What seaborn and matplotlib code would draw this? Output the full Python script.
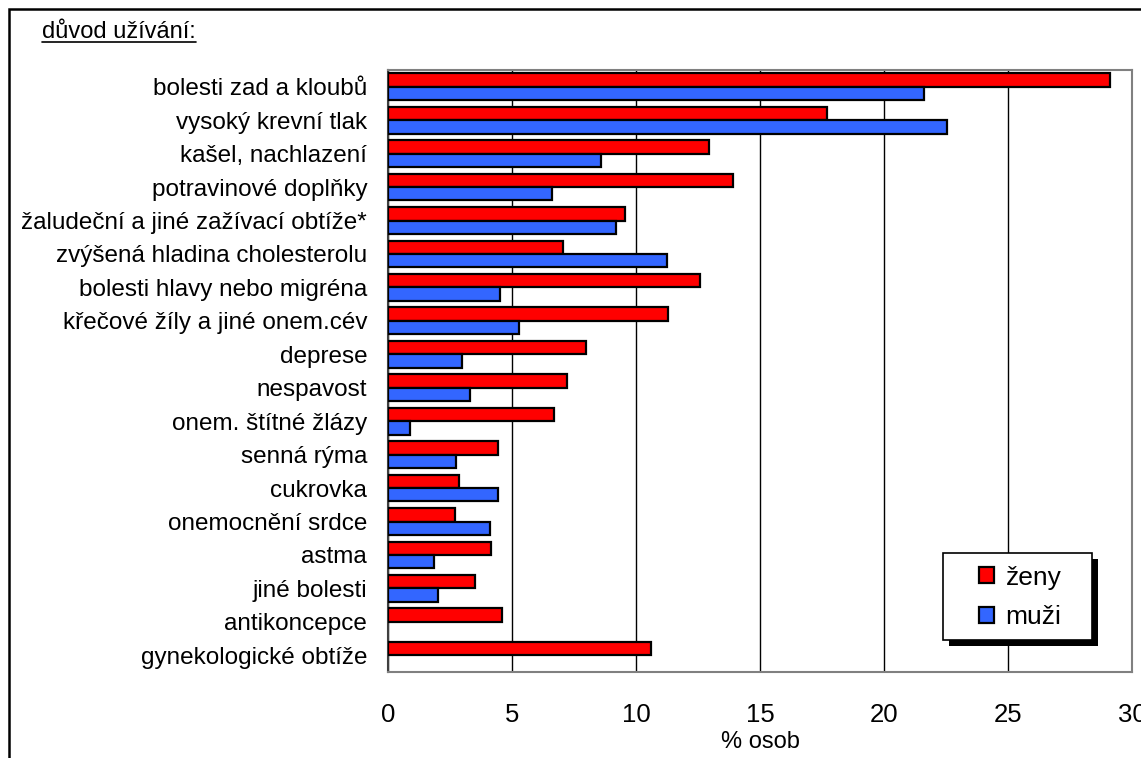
import matplotlib
matplotlib.use("Agg")
import matplotlib.pyplot as plt
from matplotlib.patches import Rectangle
from matplotlib.lines import Line2D
import numpy as np
import pandas as pd
import seaborn as sns

# Reasons for use (top to bottom)
categories = [
    "bolesti zad a kloubů",
    "vysoký krevní tlak",
    "kašel, nachlazení",
    "potravinové doplňky",
    "žaludeční a jiné zažívací obtíže*",
    "zvýšená hladina cholesterolu",
    "bolesti hlavy nebo migréna",
    "křečové žíly a jiné onem.cév",
    "deprese",
    "nespavost",
    "onem. štítné žlázy",
    "senná rýma",
    "cukrovka",
    "onemocnění srdce",
    "astma",
    "jiné bolesti",
    "antikoncepce",
    "gynekologické obtíže",
]

# Share of persons (%)
zeny = [29.1, 17.7, 12.95, 13.9, 9.55, 7.05, 12.6, 11.3, 8.0, 7.2, 6.7, 4.45,
        2.85, 2.7, 4.15, 3.5, 4.6, 10.6]
muzi = [21.6, 22.55, 8.6, 6.6, 9.2, 11.25, 4.5, 5.3, 3.0, 3.3, 0.9, 2.75,
        4.45, 4.1, 1.85, 2.0, np.nan, np.nan]

series_names = ["ženy", "muži"]
series_colors = ["#FF0000", "#3366FF"]
x_ticks = [0, 5, 10, 15, 20, 25, 30]
x_label = "% osob"
title_text = "důvod užívání:"

df = pd.DataFrame({
    "kategorie": categories * 2,
    "pohlaví": [series_names[0]] * len(categories) + [series_names[1]] * len(categories),
    "hodnota": zeny + muzi,
})

sns.set_style("white", rc={"text.color": "black", "axes.labelcolor": "black",
                           "xtick.color": "black", "ytick.color": "black"})
plt.rcParams["font.family"] = ["Liberation Sans", "DejaVu Sans"]

W, H = 1141, 758
# plot area in pixels (left, right, top, bottom)
PL, PR, PT, PB = 388, 1132, 70, 672
fig = plt.figure(figsize=(W / 100, H / 100), dpi=100)
ax = fig.add_axes([PL / W, 1 - PB / H, (PR - PL) / W, (PB - PT) / H])


def ax_frac(px, py):
    return (px - PL) / (PR - PL), (PB - py) / (PB - PT)


sns.barplot(
    data=df, y="kategorie", x="hodnota", hue="pohlaví",
    order=categories, hue_order=series_names, palette=series_colors,
    orient="h", width=0.8, edgecolor="black", linewidth=1.6,
    errorbar=None, ax=ax, saturation=1, zorder=3,
)

ax.set_xlim(0, 30)
ax.set_ylim(len(categories) - 0.5, -0.5)
ax.set_xticks(x_ticks)
ax.set_xticklabels([str(t) for t in x_ticks], fontsize=18.5)
ax.set_xlabel(x_label, fontsize=17, labelpad=3)
ax.set_ylabel("")
ax.tick_params(axis="x", direction="out", length=8, width=1, color="#808080",
               labelcolor="black", pad=14)

# Category labels with tick marks at category boundaries
ax.set_yticks(range(len(categories)))
ax.set_yticklabels(categories, fontsize=17.5)
ax.tick_params(axis="y", which="major", length=0, pad=15, labelcolor="black")
ax.set_yticks(np.arange(-0.5, len(categories), 1), minor=True)
ax.tick_params(axis="y", which="minor", length=6, width=1, color="#808080", direction="out")

ax.grid(axis="x", color="black", linewidth=1, zorder=0)
ax.set_axisbelow(True)
for side in ["top", "right", "bottom"]:
    ax.spines[side].set_color("#808080")
    ax.spines[side].set_linewidth(1.5)
ax.spines["left"].set_color("#404040")
ax.spines["left"].set_linewidth(1.5)

# Legend: white box with a solid drop shadow
bx0, by0 = ax_frac(943, 640)
bx1, by1 = ax_frac(1092, 553)
sx, sy = 6 / (PR - PL), 6 / (PB - PT)
ax.add_patch(Rectangle((bx0 + sx, by0 - sy), bx1 - bx0, by1 - by0, transform=ax.transAxes,
                       facecolor="black", edgecolor="none", zorder=8, clip_on=False))
ax.add_patch(Rectangle((bx0, by0), bx1 - bx0, by1 - by0, transform=ax.transAxes,
                       facecolor="white", edgecolor="black", linewidth=1.2,
                       zorder=9, clip_on=False))

handles, labels = ax.get_legend_handles_labels()
leg = ax.legend(
    handles, labels, loc="center left",
    bbox_to_anchor=ax_frac(979, 597.5),
    fontsize=19, frameon=False, labelcolor="black",
    handlelength=0.55, handleheight=0.55, handletextpad=0.45,
    borderpad=0, labelspacing=0.6, borderaxespad=0,
)
leg.set_zorder(10)

# Title with underline
t = fig.text(42 / W, 1 - 32 / H, title_text, fontsize=17, ha="left", va="center",
             color="black")
fig.canvas.draw()
renderer = fig.canvas.get_renderer()
tb = t.get_window_extent(renderer)
fig.add_artist(Line2D([tb.x0 / W, tb.x1 / W], [(tb.y0 + 1) / H, (tb.y0 + 1) / H],
                      color="black", linewidth=1.2))

# Outer frame
fig.add_artist(Rectangle((8.5 / W, -0.02), 1.05, 1 - 8.5 / H + 0.02,
                         fill=False, edgecolor="black", linewidth=1.8,
                         transform=fig.transFigure))

fig.savefig("out.png", dpi=100)
